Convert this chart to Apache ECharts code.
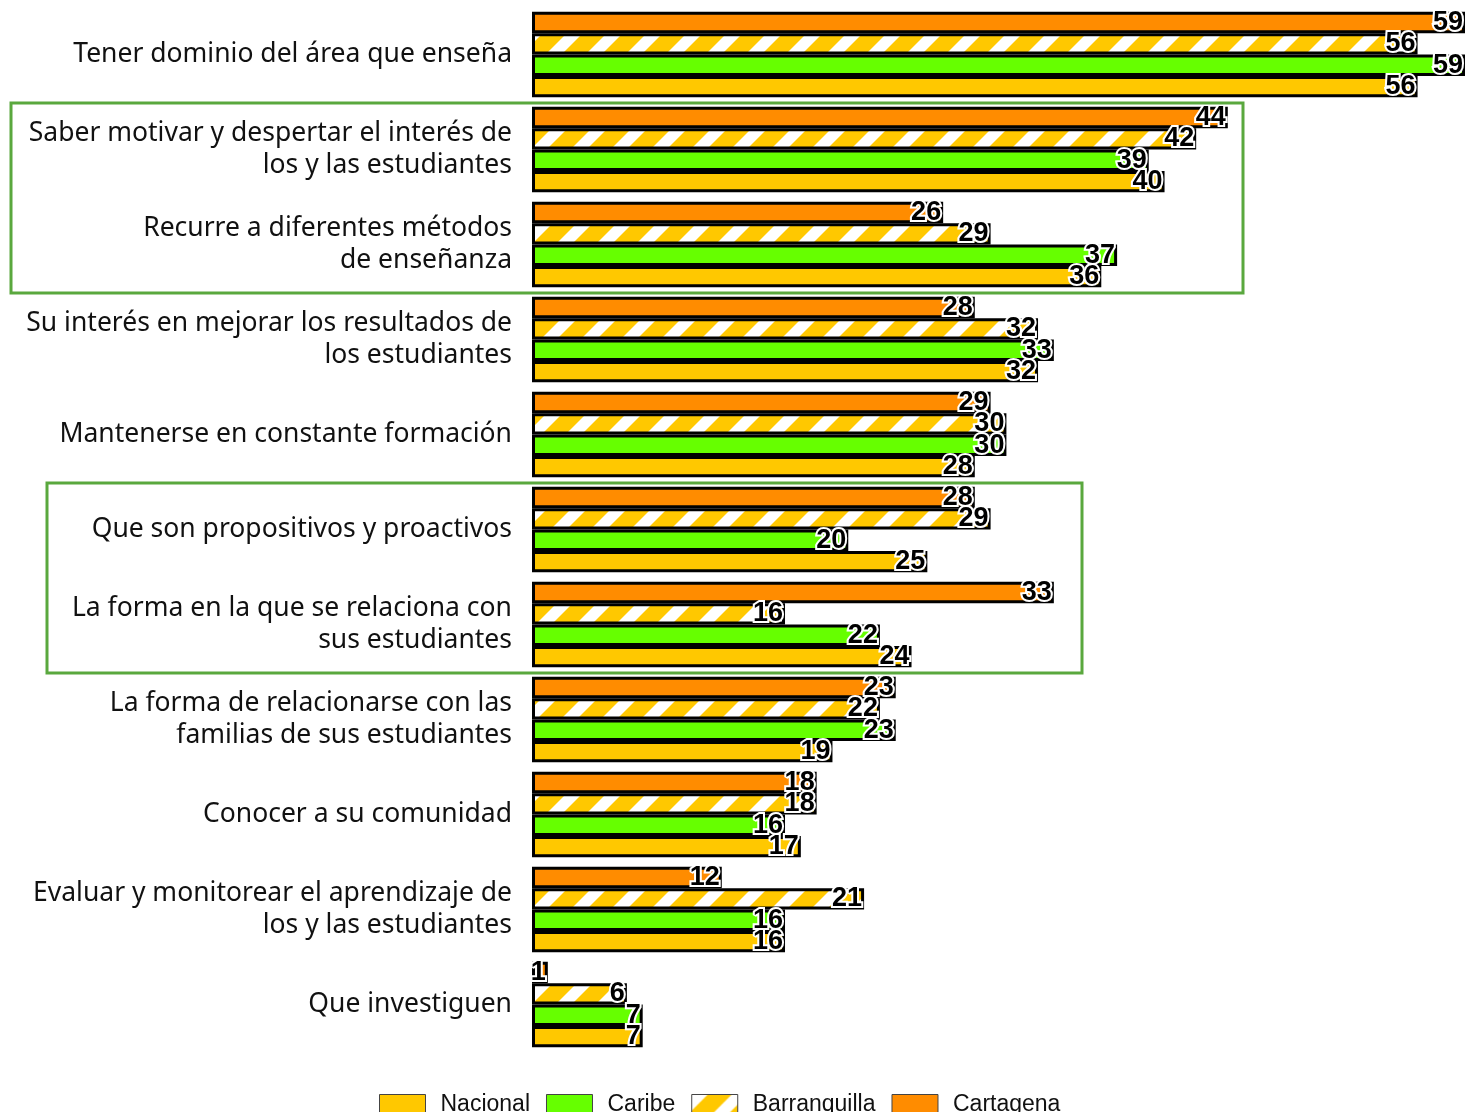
<!DOCTYPE html>
<html>
<head>
<meta charset="utf-8">
<script src="https://cdn.jsdelivr.net/npm/echarts@6/dist/echarts.min.js"></script>
<style>
html,body{margin:0;padding:0;background:#fff;}
#chart{width:1467px;height:1112px;}
</style>
</head>
<body>
<div id="chart"></div>
<script>
const categories = [
  'Tener dominio del área que enseña',
  'Saber motivar y despertar el interés de\nlos y las estudiantes',
  'Recurre a diferentes métodos\nde enseñanza',
  'Su interés en mejorar los resultados de\nlos estudiantes',
  'Mantenerse en constante formación',
  'Que son propositivos y proactivos',
  'La forma en la que se relaciona con\nsus estudiantes',
  'La forma de relacionarse con las\nfamilias de sus estudiantes',
  'Conocer a su comunidad',
  'Evaluar y monitorear el aprendizaje de\nlos y las estudiantes',
  'Que investiguen'
];
const cartagena    = [59, 44, 26, 28, 29, 28, 33, 23, 18, 12, 1];
const barranquilla = [56, 42, 29, 32, 30, 29, 16, 22, 18, 21, 6];
const caribe       = [59, 39, 37, 33, 30, 20, 22, 23, 16, 16, 7];
const nacional     = [56, 40, 36, 32, 28, 25, 24, 19, 17, 16, 7];
const legendNames  = ['Nacional', 'Caribe', 'Barranquilla', 'Cartagena'];
const highlightGroups = [[1, 2], [5, 6]];

// stripe pattern
const tile = document.createElement('canvas');
tile.width = 40; tile.height = 40;
const tc = tile.getContext('2d');
tc.fillStyle = '#FFC800';
tc.fillRect(0, 0, 40, 40);
tc.fillStyle = '#FFFFFF';
[[-40, -24], [0, 16], [40, 56], [80, 96]].forEach(([c0, c1]) => {
  tc.beginPath();
  tc.moveTo(c0, 0); tc.lineTo(c1, 0); tc.lineTo(c1 - 40, 40); tc.lineTo(c0 - 40, 40);
  tc.closePath(); tc.fill();
});

const GRID_TOP = 7, GRID_H = 1045, GRID_LEFT = 532;

const labelCfg = {
  show: true, position: 'insideRight', distance: 2,
  fontFamily: 'Liberation Sans', fontWeight: 'bold', fontSize: 27,
  color: '#000', textBorderColor: '#fff', textBorderWidth: 4
};
function mk(name, data, color) {
  return {
    name, type: 'bar', data,
    barGap: '0%', barCategoryGap: '10%',
    itemStyle: { color, borderColor: '#000', borderWidth: 3 },
    label: labelCfg,
    emphasis: { disabled: true },
    animation: false
  };
}

const chart = echarts.init(document.getElementById('chart'));
chart.setOption({
  animation: false,
  grid: { left: GRID_LEFT, right: 2, top: GRID_TOP, height: GRID_H, containLabel: false },
  xAxis: { type: 'value', min: 0, max: 59, show: false },
  yAxis: {
    type: 'category', data: categories, inverse: true,
    axisLine: { show: false }, axisTick: { show: false },
    axisLabel: {
      margin: 20, fontFamily: 'Noto Sans', fontSize: 26.5, color: '#111',
      lineHeight: 32, align: 'right', padding: [0, 0, 8, 0]
    }
  },
  legend: {
    data: legendNames, left: 374, top: 1088,
    icon: 'rect',
    itemWidth: 46, itemHeight: 20, itemGap: 16,
    textStyle: { fontFamily: 'Liberation Sans', fontSize: 23, color: '#111', padding: [0, 0, 0, 10] },
    itemStyle: { borderColor: '#444', borderWidth: 1 }
  },
  series: [
    mk('Cartagena', cartagena, '#FF8C00'),
    mk('Barranquilla', barranquilla, { image: tile, repeat: 'repeat' }),
    mk('Caribe', caribe, '#66FF00'),
    mk('Nacional', nacional, '#FFC800')
  ]
});

const band = GRID_H / categories.length;
const boxes = highlightGroups.map(([a, b], i) => {
  const top = chart.convertToPixel({ yAxisIndex: 0 }, a) - band / 2 + 1;
  const bot = chart.convertToPixel({ yAxisIndex: 0 }, b) + band / 2 + 1;
  const left = i === 0 ? 11 : 47;
  const right = i === 0 ? 1243 : 1082;
  return {
    type: 'rect', silent: true, z: 100,
    shape: { x: left, y: top, width: right - left, height: bot - top },
    style: { fill: 'none', stroke: '#5aa83e', lineWidth: 3 }
  };
});
chart.setOption({ graphic: boxes });
</script>
</body>
</html>
